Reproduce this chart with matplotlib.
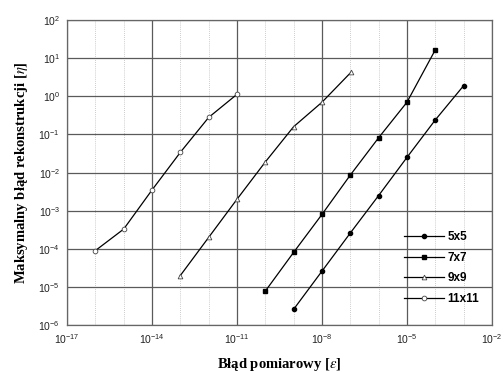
import matplotlib
matplotlib.use('Agg')
from matplotlib import pyplot as plt
from matplotlib.ticker import LogLocator, FixedLocator, NullFormatter

plt.rcParams['font.family'] = ['Liberation Sans', 'DejaVu Sans']
plt.rcParams['mathtext.fontset'] = 'stix'

# data
x_5 = [1e-9, 1e-8, 1e-7, 1e-6, 1e-5, 1e-4, 1e-3]
y_5 = [2.6e-6, 2.6e-5, 2.6e-4, 2.5e-3, 2.5e-2, 0.24, 1.9]

x_7 = [1e-10, 1e-9, 1e-8, 1e-7, 1e-6, 1e-5, 1e-4]
y_7 = [7.8e-6, 8.1e-5, 8.0e-4, 8.6e-3, 8.2e-2, 0.7, 16.5]

x_9 = [1e-13, 1e-12, 1e-11, 1e-10, 1e-9, 1e-8, 1.1e-7]
y_9 = [2.0e-5, 2.0e-4, 2.0e-3, 1.9e-2, 0.16, 0.7, 4.4]

x_11 = [1e-16, 1e-15, 1e-14, 1e-13, 1e-12, 1e-11]
y_11 = [9e-5, 3.3e-4, 3.5e-3, 3.4e-2, 0.28, 1.13]

fig = plt.figure(figsize=(5.04, 3.72), dpi=100)
ax = fig.add_axes([0.133, 0.126, 0.843, 0.820])

ax.plot(x_5, y_5, '-o', color='k', lw=0.9, ms=3.0, mfc='k', mec='k', label='5x5')
ax.plot(x_7, y_7, '-s', color='k', lw=0.9, ms=2.8, mfc='k', mec='k', label='7x7')
ax.plot(x_9, y_9, '-^', color='k', lw=0.9, ms=3.4, mfc='white', mec='#444444', mew=0.6, label='9x9')
ax.plot(x_11, y_11, '-o', color='k', lw=0.9, ms=3.4, mfc='white', mec='#444444', mew=0.6, label='11x11')

ax.set_xscale('log')
ax.set_yscale('log')
ax.set_xlim(1e-17, 1e-2)
ax.set_ylim(1e-6, 1e2)

ax.xaxis.set_major_locator(FixedLocator([10.0 ** e for e in range(-17, -1, 3)]))
ax.xaxis.set_minor_locator(FixedLocator([10.0 ** e for e in range(-17, -1)]))
ax.xaxis.set_minor_formatter(NullFormatter())
ax.yaxis.set_major_locator(LogLocator(base=10, numticks=20))
ax.yaxis.set_minor_locator(FixedLocator([]))

ax.grid(True, which='minor', axis='x', ls=(0, (1, 1.5)), lw=0.6, c='#bbbbbb')
ax.grid(True, which='major', axis='both', ls='-', lw=0.9, c='#5a5a5a')
ax.set_axisbelow(True)

ax.tick_params(which='both', length=0, labelsize=7.5, colors='#222222', pad=5)
for s in ax.spines.values():
    s.set_color('#666666')
    s.set_linewidth(0.9)

ax.set_xlabel(r'Błąd pomiarowy [$\varepsilon$]', family='Liberation Serif', fontweight='bold',
              fontsize=10.5, labelpad=7)
ax.set_ylabel(r'Maksymalny błąd rekonstrukcji [$\eta$]', family='Liberation Serif', fontweight='bold',
              fontsize=10.5, labelpad=6)

leg = ax.legend(loc='lower right', bbox_to_anchor=(0.995, 0.03), frameon=False,
                handlelength=3.4, handletextpad=0.3, labelspacing=0.75, prop={'weight': 'bold', 'size': 8.5})

fig.savefig('out.png', dpi=100)
